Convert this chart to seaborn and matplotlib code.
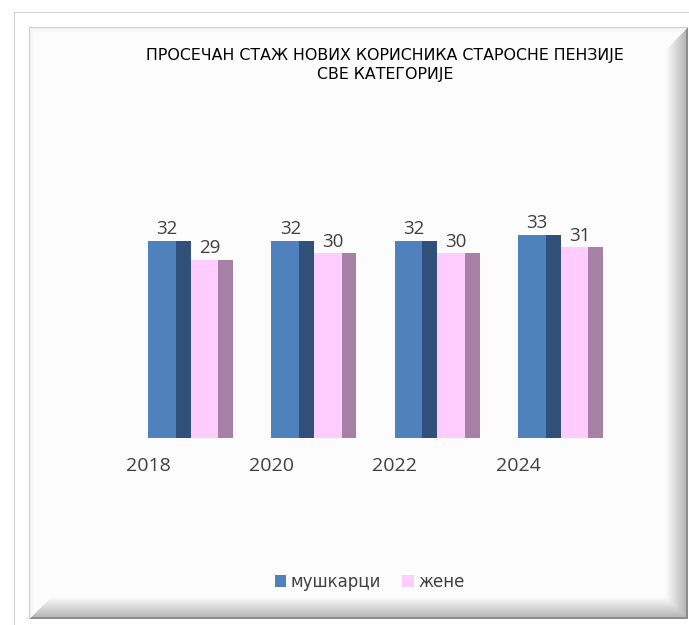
import numpy as np
import pandas as pd
import matplotlib.pyplot as plt
import seaborn as sns

# Values
godine = ['2018', '2020', '2022', '2024']
muskarci = [32, 32, 32, 33]
zene = [29, 30, 30, 31]
serije = ['мушкарци', 'жене']
naslov = 'ПРОСЕЧАН СТАЖ НОВИХ КОРИСНИКА СТАРОСНЕ ПЕНЗИЈЕ\nСВЕ КАТЕГОРИЈЕ'

df = pd.DataFrame({
    'godina': godine * 2,
    'staz': muskarci + zene,
    'pol': [serije[0]] * len(godine) + [serije[1]] * len(godine),
})

front = ['#4F81BD', '#FFCCFF']
side = ['#30507A', '#A780A6']

sns.set_style('white')
plt.rcParams['font.family'] = ['Open Sans', 'DejaVu Sans']

W, H = 689, 625
fig = plt.figure(figsize=(W / 100, H / 100), dpi=100)

# background: outer thin frame + bevelled panel
yy, xx = np.mgrid[0:H, 0:W] + 0.5
img = np.ones((H, W))
img[12, 14:] = 0.82
img[12:, 14] = 0.82
x0, y0, x1, y1 = 29, 27, 688, 619
inside = (xx > x0) & (xx < x1) & (yy > y0) & (yy < y1)
dl, dt, dr, db = xx - x0, yy - y0, x1 - xx, y1 - yy
m_rb = np.minimum(dr, db)
m_lt = np.minimum(dl, dt)
shade = np.full((H, W), 0.985)
rb = (m_rb < m_lt) & (m_rb < 22)
shade[rb] = np.where(m_rb[rb] < 2.5, 0.55, 0.72 + (m_rb[rb] - 2.5) / 19.5 * 0.265)
lt = (m_lt <= m_rb) & (m_lt < 6)
shade[lt] = np.where(m_lt[lt] < 1.5, 0.80, 0.95 + (m_lt[lt] - 1.5) / 4.5 * 0.035)
img[inside] = shade[inside]

bg = fig.add_axes([0, 0, 1, 1], zorder=0)
bg.imshow(img, cmap='gray', vmin=0, vmax=1, extent=(0, W, H, 0),
          interpolation='nearest', aspect='auto')
bg.set_xlim(0, W)
bg.set_ylim(H, 0)
bg.axis('off')

# plot area
ax = fig.add_axes([0.187, 0.2992, 0.716, 0.3936], zorder=1)
ax.patch.set_alpha(0)
sns.barplot(data=df, x='godina', y='staz', hue='pol', hue_order=serije,
            palette=front, saturation=1, width=0.688, linewidth=0, ax=ax)

fw, sw = 0.225, 0.119
for k, cont in enumerate(ax.containers[:2]):
    for rect in cont:
        x, h = rect.get_x(), rect.get_height()
        rect.set_width(fw)
        ax.bar(x + fw, h, width=sw, align='edge', color=side[k], linewidth=0)
        ax.annotate(f'{h:.0f}', (x + 0.155, h), xytext=(0, 2),
                    textcoords='offset points', ha='center', va='bottom',
                    fontsize=13.5, color='#404040')

ax.set_xlim(-0.5, 3.5)
ax.set_ylim(0, 40)
ax.set_xticks([r.get_x() for r in ax.containers[0]])
ax.set_xticklabels(godine, fontsize=14, color='#404040')
ax.tick_params(axis='x', length=0, pad=14)
ax.set_yticks([])
ax.set_xlabel('')
ax.set_ylabel('')
for s in ax.spines.values():
    s.set_visible(False)

sns.move_legend(ax, 'center', bbox_to_anchor=(0.488, -0.585), ncol=2,
                frameon=False, title=None, handlelength=0.7, handleheight=0.7,
                handletextpad=0.25, columnspacing=1.3,
                prop={'family': 'DejaVu Sans', 'size': 12})
for t in ax.get_legend().get_texts():
    t.set_color('#404040')

fig.text(385 / W, 1 - 65 / H, naslov, ha='center', va='center',
         fontsize=11.4, family='DejaVu Sans', linespacing=1.4, color='black')

fig.savefig('out.png', dpi=100)
